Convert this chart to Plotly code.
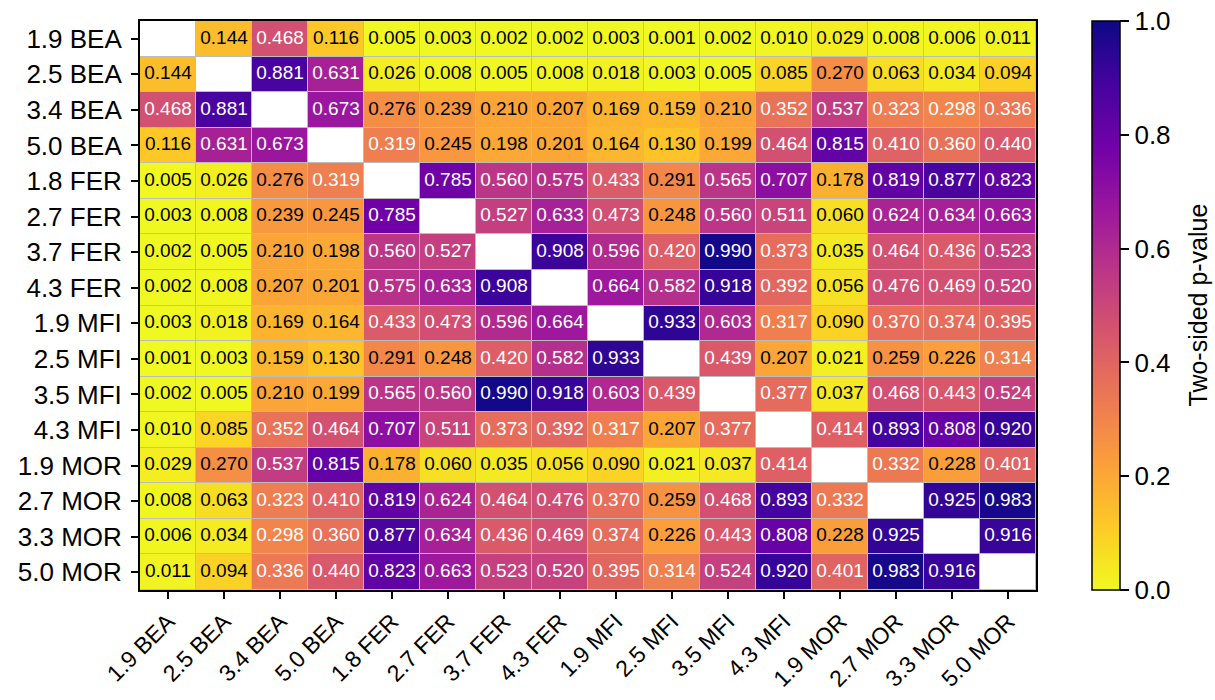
import plotly.graph_objects as go

# Sample labels (Si/Al ratio + framework type)
labels = ["1.9 BEA", "2.5 BEA", "3.4 BEA", "5.0 BEA",
          "1.8 FER", "2.7 FER", "3.7 FER", "4.3 FER",
          "1.9 MFI", "2.5 MFI", "3.5 MFI", "4.3 MFI",
          "1.9 MOR", "2.7 MOR", "3.3 MOR", "5.0 MOR"]

# Pairwise two-sided p-values (diagonal left empty)
p_values = [
    [None, 0.144, 0.468, 0.116, 0.005, 0.003, 0.002, 0.002, 0.003, 0.001, 0.002, 0.010, 0.029, 0.008, 0.006, 0.011],
    [0.144, None, 0.881, 0.631, 0.026, 0.008, 0.005, 0.008, 0.018, 0.003, 0.005, 0.085, 0.270, 0.063, 0.034, 0.094],
    [0.468, 0.881, None, 0.673, 0.276, 0.239, 0.210, 0.207, 0.169, 0.159, 0.210, 0.352, 0.537, 0.323, 0.298, 0.336],
    [0.116, 0.631, 0.673, None, 0.319, 0.245, 0.198, 0.201, 0.164, 0.130, 0.199, 0.464, 0.815, 0.410, 0.360, 0.440],
    [0.005, 0.026, 0.276, 0.319, None, 0.785, 0.560, 0.575, 0.433, 0.291, 0.565, 0.707, 0.178, 0.819, 0.877, 0.823],
    [0.003, 0.008, 0.239, 0.245, 0.785, None, 0.527, 0.633, 0.473, 0.248, 0.560, 0.511, 0.060, 0.624, 0.634, 0.663],
    [0.002, 0.005, 0.210, 0.198, 0.560, 0.527, None, 0.908, 0.596, 0.420, 0.990, 0.373, 0.035, 0.464, 0.436, 0.523],
    [0.002, 0.008, 0.207, 0.201, 0.575, 0.633, 0.908, None, 0.664, 0.582, 0.918, 0.392, 0.056, 0.476, 0.469, 0.520],
    [0.003, 0.018, 0.169, 0.164, 0.433, 0.473, 0.596, 0.664, None, 0.933, 0.603, 0.317, 0.090, 0.370, 0.374, 0.395],
    [0.001, 0.003, 0.159, 0.130, 0.291, 0.248, 0.420, 0.582, 0.933, None, 0.439, 0.207, 0.021, 0.259, 0.226, 0.314],
    [0.002, 0.005, 0.210, 0.199, 0.565, 0.560, 0.990, 0.918, 0.603, 0.439, None, 0.377, 0.037, 0.468, 0.443, 0.524],
    [0.010, 0.085, 0.352, 0.464, 0.707, 0.511, 0.373, 0.392, 0.317, 0.207, 0.377, None, 0.414, 0.893, 0.808, 0.920],
    [0.029, 0.270, 0.537, 0.815, 0.178, 0.060, 0.035, 0.056, 0.090, 0.021, 0.037, 0.414, None, 0.332, 0.228, 0.401],
    [0.008, 0.063, 0.323, 0.410, 0.819, 0.624, 0.464, 0.476, 0.370, 0.259, 0.468, 0.893, 0.332, None, 0.925, 0.983],
    [0.006, 0.034, 0.298, 0.360, 0.877, 0.634, 0.436, 0.469, 0.374, 0.226, 0.443, 0.808, 0.228, 0.925, None, 0.916],
    [0.011, 0.094, 0.336, 0.440, 0.823, 0.663, 0.523, 0.520, 0.395, 0.314, 0.524, 0.920, 0.401, 0.983, 0.916, None],
]

cbar_ticks = [0.0, 0.2, 0.4, 0.6, 0.8, 1.0]
text_threshold = 0.295
FONT = "Liberation Sans, Arial, sans-serif"

W, H = 1215, 700
ML, MR, MT, MB = 140, 179, 21, 110
plot_w = W - ML - MR
n = len(labels)

fig = go.Figure()

# white fill for the empty diagonal so the gaps still read as grid lines
diag = [[1 if i == j else None for j in range(n)] for i in range(n)]
fig.add_trace(go.Heatmap(
    z=diag, x=labels, y=labels,
    colorscale=[[0, "white"], [1, "white"]],
    showscale=False, xgap=1, ygap=1, hoverinfo="skip",
))

fig.add_trace(go.Heatmap(
    z=p_values, x=labels, y=labels,
    colorscale="Plasma", reversescale=True, zmin=0, zmax=1,
    xgap=1, ygap=1,
    colorbar=dict(
        thickness=28, thicknessmode="pixels",
        len=1, lenmode="fraction", y=0.5, yanchor="middle", ypad=0,
        x=(1092 - ML) / plot_w, xanchor="left", xpad=0,
        outlinecolor="black", outlinewidth=1.5,
        tickvals=cbar_ticks, ticktext=[f"{v:.1f}" for v in cbar_ticks],
        ticks="outside", ticklen=9, tickwidth=1.5, tickcolor="black",
        tickfont=dict(family=FONT, size=26, color="black"),
    ),
))

# cell value labels: dark on light cells, white on dark cells
for colour, keep in (("black", lambda v: v < text_threshold),
                     ("white", lambda v: v >= text_threshold)):
    xs, ys, ts = [], [], []
    for i, row in enumerate(p_values):
        for j, v in enumerate(row):
            if v is not None and keep(v):
                xs.append(labels[j])
                ys.append(labels[i])
                ts.append(f"{v:.3f}")
    fig.add_trace(go.Scatter(
        x=xs, y=ys, text=ts, mode="text",
        textfont=dict(family=FONT, size=19, color=colour),
        showlegend=False, hoverinfo="skip",
    ))

axis_common = dict(
    showline=True, mirror=True, linecolor="black", linewidth=2,
    ticks="outside", ticklen=7, tickwidth=1.5, tickcolor="black",
    showgrid=False, zeroline=False, automargin=False,
)

fig.update_layout(
    width=W, height=H,
    margin=dict(l=ML, r=MR, t=MT, b=MB, autoexpand=False),
    plot_bgcolor="#bcbcbc", paper_bgcolor="white",
    xaxis=dict(**axis_common, tickangle=-45, range=[-0.5, n - 0.5],
               tickfont=dict(family=FONT, size=23, color="black")),
    yaxis=dict(**axis_common, range=[n - 0.5, -0.5], ticklabelstandoff=4,
               tickfont=dict(family=FONT, size=26, color="black")),
    showlegend=False,
    annotations=[dict(
        text="Two-sided p-value", textangle=-90,
        xref="paper", yref="paper", x=(1197 - ML) / plot_w, y=0.5,
        xanchor="center", yanchor="middle", showarrow=False,
        font=dict(family=FONT, size=25, color="black"),
    )],
)

fig.write_html("out.html")
